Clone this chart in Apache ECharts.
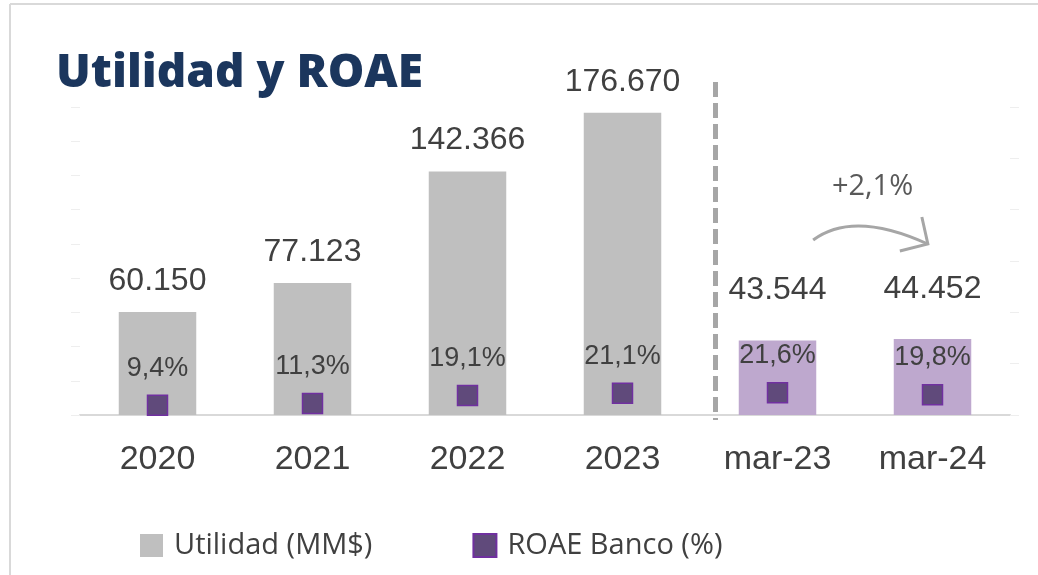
<!DOCTYPE html>
<html>
<head>
<meta charset="utf-8">
<script src="https://cdn.jsdelivr.net/npm/echarts@6/dist/echarts.min.js"></script>
<style>
  html, body { margin: 0; padding: 0; background: #ffffff; }
  #chart { width: 1038px; height: 575px; }
</style>
</head>
<body>
<div id="chart"></div>
<script>
// ---- data ----
const categories = ['2020', '2021', '2022', '2023', 'mar-23', 'mar-24'];
const utilidad = [60150, 77123, 142366, 176670, 43544, 44452];
const roae = [9.4, 11.3, 19.1, 21.1, 21.6, 19.8];
const seriesNames = ['Utilidad (MM$)', 'ROAE Banco (%)'];
const titleText = 'Utilidad y ROAE';
const growthText = '+2,1%';
const quarterCategories = ['mar-23', 'mar-24'];

// ---- helpers ----
function fmtThousands(n) { return String(n).replace(/\B(?=(\d{3})+(?!\d))/g, '.'); }
function fmtPct(v) { return v.toFixed(1).replace('.', ',') + '%'; }

const GREY = '#bfbfbf';
const LILAC = '#bea8ce';
const TEXT = '#404040';
const NUMFONT = '"Liberation Sans", Arial, sans-serif';

const barData = utilidad.map((v, i) => {
  const isQ = quarterCategories.indexOf(categories[i]) >= 0;
  return {
    value: v,
    itemStyle: { color: isQ ? LILAC : GREY },
    label: { distance: isQ ? 34 : 15 }
  };
});

const chart = echarts.init(document.getElementById('chart'), null, { renderer: 'canvas' });

const option = {
  animation: false,
  backgroundColor: '#ffffff',
  title: {
    text: titleText,
    left: 56,
    top: 51,
    padding: 0,
    textStyle: {
      fontFamily: '"Open Sans", sans-serif',
      fontWeight: 800,
      fontSize: 46,
      lineHeight: 46,
      color: '#1b365d'
    }
  },
  legend: {
    data: seriesNames,
    left: 135,
    top: 526,
    itemWidth: 23,
    itemHeight: 23,
    itemGap: 100,
    icon: 'rect',
    textStyle: {
      fontFamily: '"Open Sans", sans-serif',
      fontSize: 29,
      color: TEXT,
      padding: [0, 0, 0, 6]
    }
  },
  grid: { left: 80, right: 28, top: 107, bottom: 160, containLabel: false },
  xAxis: {
    type: 'category',
    data: categories,
    axisLine: { lineStyle: { color: '#d9d9d9', width: 2 } },
    axisTick: { show: false },
    axisLabel: {
      margin: 28,
      fontFamily: NUMFONT,
      fontSize: 34,
      color: TEXT
    }
  },
  yAxis: [
    {
      type: 'value', min: 0, max: 180000, interval: 20000,
      axisLine: { show: false },
      axisTick: { show: true, length: 9, lineStyle: { color: '#eeeeee' } },
      axisLabel: { show: false },
      splitLine: { show: false }
    },
    {
      type: 'value', min: 0, max: 300, interval: 50,
      axisLine: { show: false },
      axisTick: { show: true, length: 9, lineStyle: { color: '#eeeeee' } },
      axisLabel: { show: false },
      splitLine: { show: false }
    }
  ],
  series: [
    {
      name: seriesNames[0],
      type: 'bar',
      yAxisIndex: 0,
      barWidth: '50%',
      itemStyle: { color: GREY },
      data: barData,
      label: {
        show: true,
        position: 'top',
        fontFamily: NUMFONT,
        fontSize: 32,
        color: TEXT,
        formatter: p => fmtThousands(p.value)
      },
      z: 2
    },
    {
      name: seriesNames[1],
      type: 'scatter',
      yAxisIndex: 1,
      symbol: 'rect',
      symbolSize: 20,
      itemStyle: { color: '#604a7b', borderColor: '#7030a0', borderWidth: 1.5, opacity: 1 },
      data: roae,
      label: {
        show: true,
        position: 'top',
        distance: 13,
        fontFamily: NUMFONT,
        fontSize: 27,
        color: TEXT,
        formatter: p => fmtPct(p.value)
      },
      z: 3
    }
  ]
};

chart.setOption(option);

// ---- annotations positioned from the axis scale ----
const px = c => chart.convertToPixel({ xAxisIndex: 0 }, c);
const xs = categories.map(c => px(c));
const step = xs[1] - xs[0];
const xDash = xs[3] + 0.6 * (xs[4] - xs[3]);
const ax0 = xs[4] + 0.23 * step;
const ax1 = xs[5] - 0.03 * step;
const axMid = (ax0 + ax1) / 2;

chart.setOption({
  graphic: [
    // frame
    { type: 'line', shape: { x1: 10, y1: 4, x2: 1038, y2: 4 }, style: { stroke: '#d9d9d9', lineWidth: 2 }, silent: true },
    { type: 'line', shape: { x1: 10, y1: 4, x2: 10, y2: 575 }, style: { stroke: '#d9d9d9', lineWidth: 2 }, silent: true },
    // dashed separator
    { type: 'line', shape: { x1: xDash, y1: 82, x2: xDash, y2: 420 },
      style: { stroke: '#a6a6a6', lineWidth: 5, lineDash: [15, 6] }, z: 10, silent: true },
    // curved arrow
    { type: 'bezierCurve',
      shape: { x1: ax0, y1: 240, cpx1: ax0 + 0.35 * (ax1 - ax0), cpy1: 210, x2: ax1, y2: 244 },
      style: { stroke: '#a6a6a6', lineWidth: 3, fill: null }, z: 10, silent: true },
    { type: 'polyline',
      shape: { points: [[ax1 - 6, 217], [ax1, 244], [ax1 - 28, 251]] },
      style: { stroke: '#a6a6a6', lineWidth: 3, fill: null }, z: 10, silent: true },
    { type: 'text', x: axMid + 2, y: 187,
      style: { text: growthText, fontFamily: '"Open Sans", sans-serif', fontSize: 29, fill: '#595959',
               textAlign: 'center', textVerticalAlign: 'middle' }, z: 10, silent: true }
  ]
});
</script>
</body>
</html>
